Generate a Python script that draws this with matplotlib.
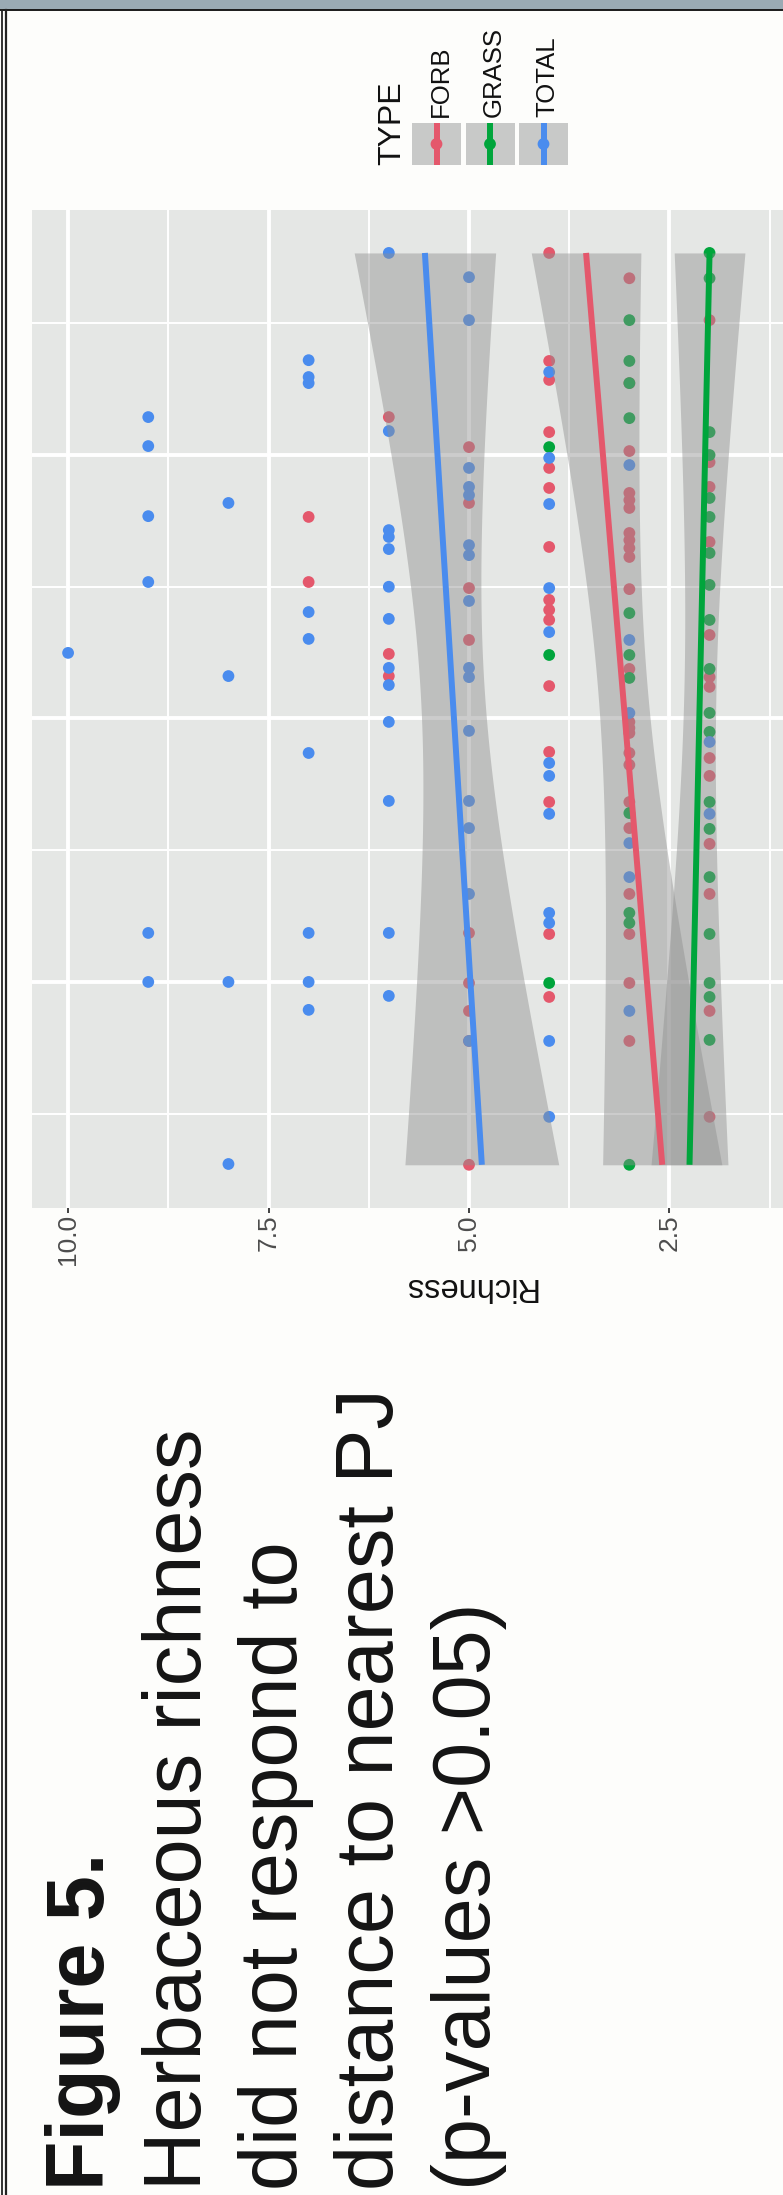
import numpy as np
import matplotlib
matplotlib.use("Agg")
import matplotlib.pyplot as plt
from matplotlib import font_manager as fm
from matplotlib.patches import Rectangle

names = {f.name for f in fm.fontManager.ttflist}
NARROW = 'Liberation Sans Narrow' if 'Liberation Sans Narrow' in names else 'Liberation Sans'
SANS = 'Liberation Sans'

# ---------------- data (distance to nearest PJ, richness) ----------------
types = ["FORB", "GRASS", "TOTAL"]
colors = {"FORB": "#E4586C", "GRASS": "#00A53C", "TOTAL": "#4A8CEE"}

total_dist = [3767, 3675, 3512, 3360, 3315, 3296, 3273, 3144, 3091, 3034, 2989, 2962,
              2951, 2879, 2848, 2818, 2814, 2768, 2715, 2689, 2658, 2643, 2620, 2518,
              2500, 2495, 2446, 2404, 2378, 2328, 2302, 2298, 2249, 2192, 2192, 2157,
              2161, 2127, 2021, 1987, 1953, 1911, 1869, 1831, 1782, 1687, 1687, 1638,
              1638, 1584, 1527, 1398, 1334, 1262, 1224, 1186, 1186, 1186, 1000, 1000,
              1000, 947, 894, 890, 776, 776, 488, 309]
total_rich = [6, 5, 5, 7, 4, 7, 7, 9, 6, 9, 4, 3,
              5, 5, 5, 8, 4, 9, 6, 6, 5, 6, 5, 9,
              6, 4, 5, 7, 6, 4, 7, 3, 10, 6, 5, 5,
              8, 6, 3, 6, 5, 2, 7, 4, 4, 6, 5, 4,
              2, 5, 3, 3, 5, 4, 4, 9, 7, 6, 9, 8,
              7, 6, 7, 3, 5, 4, 4, 8]

forb_dist = [3767, 3671, 3512, 3357, 3285, 3273, 3144, 3087, 3030, 3015, 2973, 2951,
             2879, 2875, 2856, 2829, 2818, 2799, 2765, 2704, 2677, 2670, 2651, 2647,
             2613, 2518, 2495, 2491, 2450, 2412, 2374, 2317, 2298, 2245, 2188, 2161,
             2157, 2123, 2120, 2021, 1987, 1964, 1945, 1873, 1869, 1850, 1824, 1782,
             1683, 1683, 1641, 1584, 1524, 1334, 1334, 1262, 1186, 1182, 1182, 996,
             996, 996, 943, 890, 890, 776, 776, 488, 306]
forb_rich = [4, 3, 2, 4, 4, 3, 6, 4, 5, 3, 2, 4,
             2, 4, 3, 3, 5, 3, 7, 3, 3, 2, 4, 3,
             3, 7, 5, 3, 4, 4, 4, 2, 5, 6, 3, 6,
             2, 4, 2, 1, 3, 3, 3, 4, 3, 2, 3, 2,
             4, 3, 1, 3, 2, 3, 2, 1, 5, 4, 3, 5,
             3, 1, 4, 5, 2, 5, 3, 2, 5]

grass_dist = [3767, 3671, 3512, 3357, 3273, 3140, 3087, 3030, 3000, 2837, 2765, 2628,
              2507, 2400, 2374, 2241, 2241, 2188, 2154, 2021, 1949, 1945, 1861, 1767,
              1683, 1641, 1581, 1527, 1398, 1262, 1224, 1186, 1182, 996, 996, 943,
              894, 780, 780, 306]
grass_rich = [2, 2, 3, 3, 3, 3, 2, 4, 2, 2, 2, 2,
              2, 3, 2, 4, 3, 2, 3, 2, 2, 1, 1, 1,
              2, 3, 2, 1, 2, 3, 3, 1, 2, 4, 2, 2,
              1, 2, 1, 3]

points = {"FORB": (forb_dist, forb_rich),
          "GRASS": (grass_dist, grass_rich),
          "TOTAL": (total_dist, total_rich)}

# linear fits: richness at min / max distance
fit_range = [306, 3767]
fit_ends = {"FORB": [2.59, 3.54], "GRASS": [2.25, 2.00], "TOTAL": [4.84, 5.55]}
# half-width of the 95% band at the mean distance
band_mid = {"FORB": 0.31, "GRASS": 0.20, "TOTAL": 0.40}

rich_major = [2.5, 5.0, 7.5, 10.0]
rich_labels = ["2.5", "5.0", "7.5", "10.0"]
rich_minor = [0.0, 1.25, 3.75, 6.25, 8.75]
dist_major = [1000, 2000, 3000]
dist_minor = [500, 1500, 2500, 3500]

caption = ["Figure 5.", "Herbaceous richness", "did not respond to",
           "distance to nearest PJ", "(p-values >0.05)"]

# ---------------- figure ----------------
W, H, DPI = 783, 2195, 100
fig = plt.figure(figsize=(W / DPI, H / DPI), dpi=DPI, facecolor="#FDFDFB")


def box(x0, y0, x1, y1):
    return [x0 / W, 1 - y1 / H, (x1 - x0) / W, (y1 - y0) / H]


ax = fig.add_axes(box(32, 210, 906, 1208))
ax.set_facecolor("#E5E7E5")
ax.set_xlim(10.45, -0.45)
ax.set_ylim(142, 3930)
for s in ax.spines.values():
    s.set_visible(False)
ax.set_xticks(rich_major)
ax.set_xticklabels(rich_labels, rotation=90, fontsize=19, family=NARROW, color="#4D4D4D")
ax.set_xticks(rich_minor, minor=True)
ax.set_yticks(dist_major)
ax.set_yticks(dist_minor, minor=True)
ax.tick_params(axis="x", which="major", length=3.5, width=1.3, color="#333333", pad=1)
ax.tick_params(axis="x", which="minor", length=0)
ax.tick_params(axis="y", which="both", left=False, labelleft=False)
ax.grid(True, which="major", color="white", lw=2.8)
ax.grid(True, which="minor", color="white", lw=1.4)
ax.set_axisbelow(True)

# rows' distances for band shape
rows = np.array(total_dist, dtype=float)
n = len(rows)
dbar = rows.mean()
sxx = ((rows - dbar) ** 2).sum()
dgrid = np.linspace(fit_range[0], fit_range[1], 80)

for t in types:
    d, r = points[t]
    ax.scatter(r, d, s=72, color=colors[t], edgecolors="none", zorder=2, clip_on=True)

for t in types:
    r0, r1 = fit_ends[t]
    rfit = r0 + (r1 - r0) * (dgrid - fit_range[0]) / (fit_range[1] - fit_range[0])
    half = band_mid[t] * np.sqrt(1 + n * (dgrid - dbar) ** 2 / sxx)
    ax.fill_betweenx(dgrid, rfit - half, rfit + half, color="#8F8F8F", alpha=0.45,
                     lw=0, zorder=3)
for t in types:
    r0, r1 = fit_ends[t]
    rfit = r0 + (r1 - r0) * (dgrid - fit_range[0]) / (fit_range[1] - fit_range[0])
    ax.plot(rfit, dgrid, color=colors[t], lw=4.3, zorder=4, solid_capstyle="butt")

# ---------------- decorations in pixel space ----------------
deco = fig.add_axes([0, 0, 1, 1])
deco.set_xlim(0, W)
deco.set_ylim(H, 0)
deco.axis("off")
deco.patch.set_alpha(0)

deco.add_patch(Rectangle((0, 0), W, 9.5, color="#9AAAB4", lw=0))
deco.plot([0, W], [10.3, 10.3], color="#1A1A1A", lw=1.4)
deco.plot([2.3, 2.3], [10, H], color="#222222", lw=1.3)
deco.plot([6.2, 6.2], [10, H], color="#222222", lw=1.6)

# axis title
deco.text(469, 1278, "Richness", rotation=180, rotation_mode="anchor", ha="center",
          va="baseline", fontsize=23.5, family=SANS, color="#111111")

# legend
deco.text(400, 165, "TYPE", rotation=90, rotation_mode="anchor", ha="left",
          va="baseline", fontsize=23, family=NARROW, color="#111111")
for i, t in enumerate(types):
    x0 = 412 + i * 53.5
    cx = x0 + 24.5
    deco.add_patch(Rectangle((x0, 123), 49, 42, color="#C8C9C8", lw=0))
    deco.plot([cx, cx], [123, 165], color=colors[t], lw=4.3, solid_capstyle="butt")
    deco.scatter([cx], [144], s=72, color=colors[t], edgecolors="none", zorder=5)
    deco.text(cx + 11, 117, t, rotation=90, rotation_mode="anchor", ha="left",
              va="baseline", fontsize=18.5, family=NARROW, color="#111111")

# caption
for i, line in enumerate(caption):
    deco.text(104 + i * 96.5, 2190, line, rotation=90, rotation_mode="anchor",
              ha="left", va="baseline", fontsize=58.3, family=SANS,
              fontweight="bold" if i == 0 else "normal", color="#141414")

fig.savefig("out.png", dpi=DPI, facecolor=fig.get_facecolor())
